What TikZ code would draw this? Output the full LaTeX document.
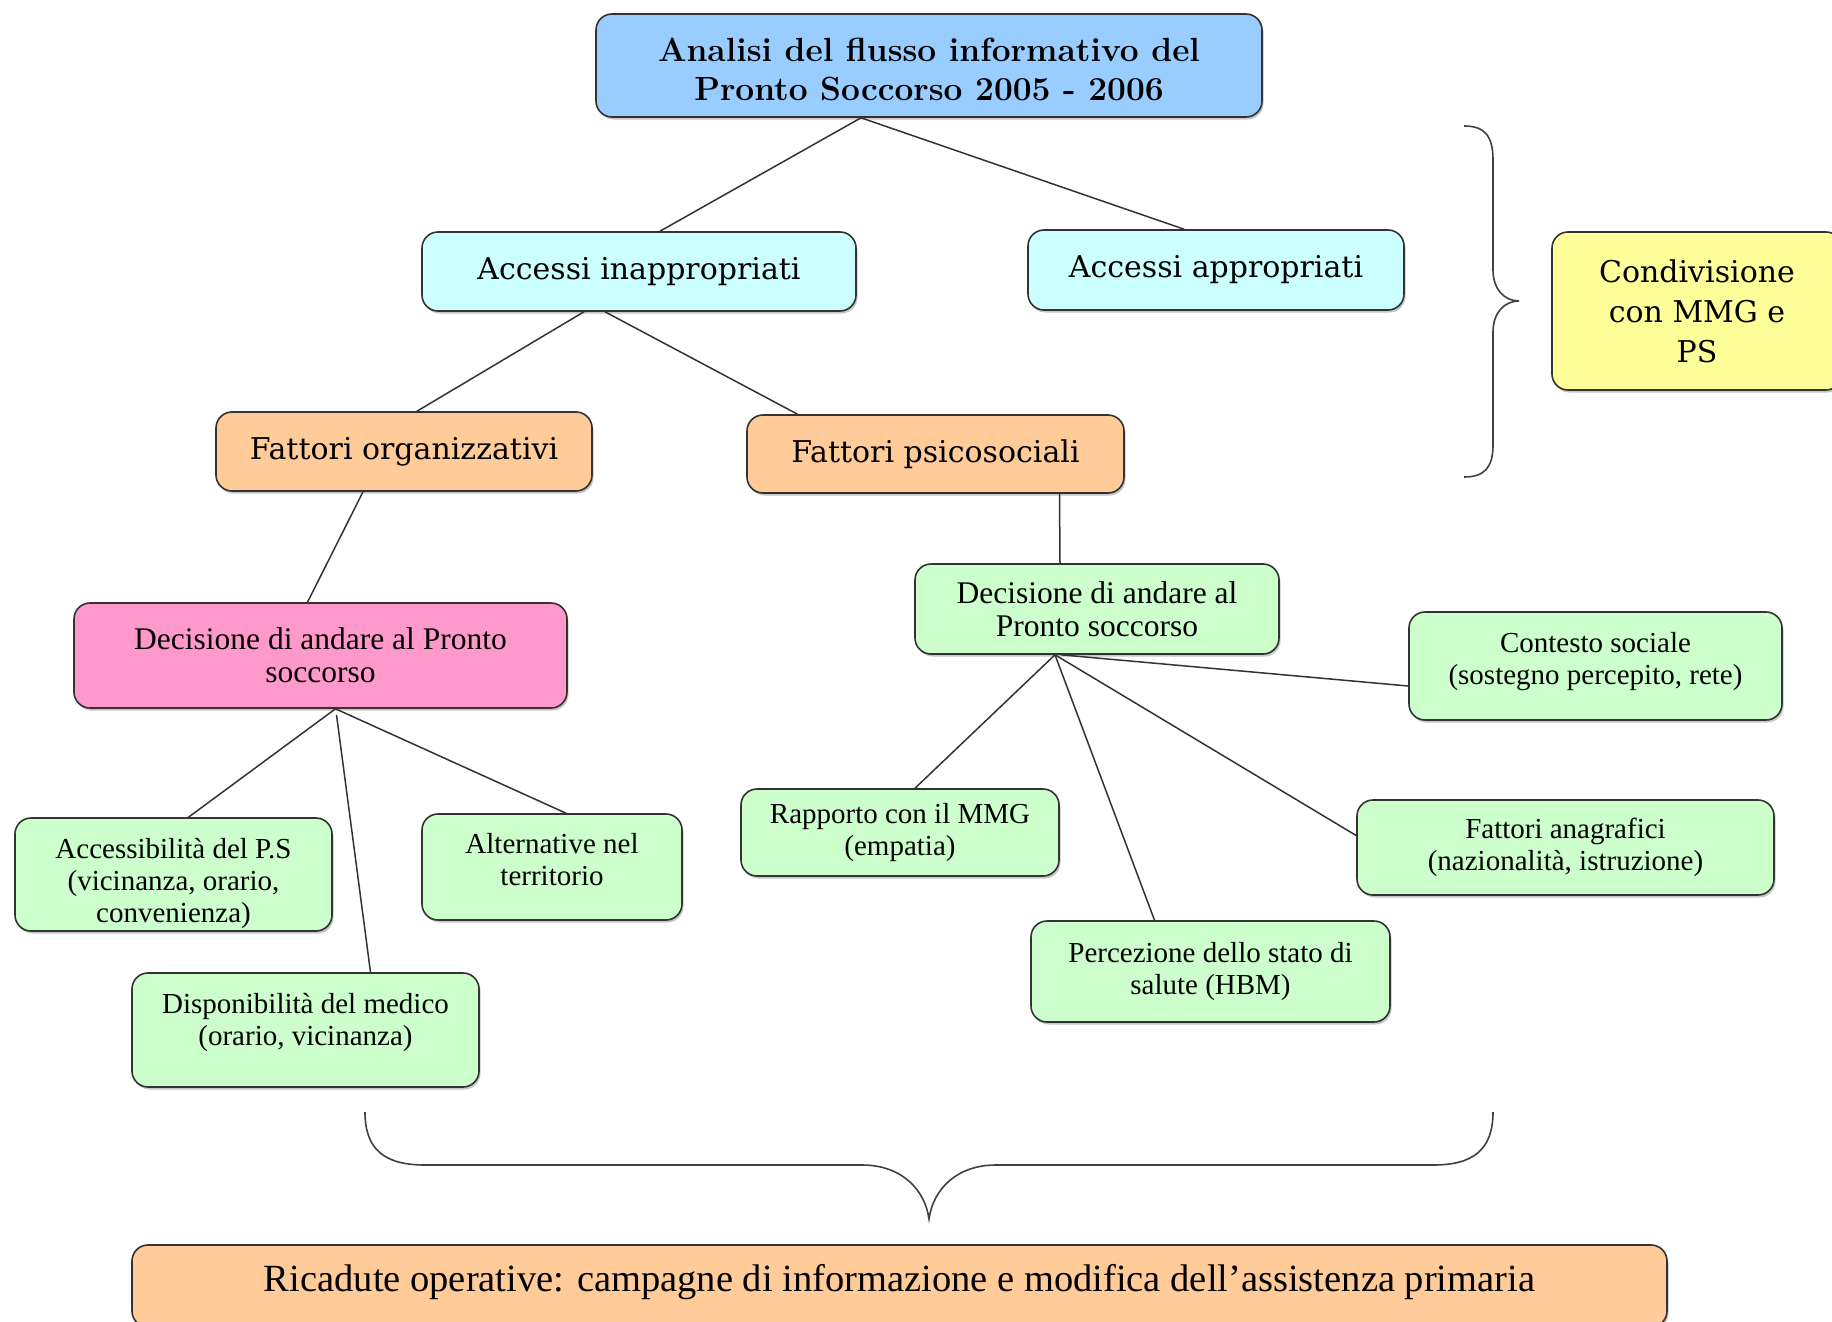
\documentclass[tikz,border=0pt]{standalone}
\usepackage{fontspec}
\newfontfamily\tnr{Liberation Serif}
\newfontfamily\dvs{DejaVu Serif}
\usetikzlibrary{shadows}

\begin{document}
\begin{tikzpicture}[x=1pt,y=-1pt,
  box/.style={draw=black!80, line width=1.6pt, rounded corners=16pt,
    align=center, inner sep=0pt,
    drop shadow={shadow xshift=1.5pt, shadow yshift=-2.5pt, fill=black!45}},
  sz/.style 2 args={minimum width=#1pt, minimum height=#2pt},
  titlebox/.style={box, fill=titleblue, font=\fontsize{33.5}{39}\selectfont\bfseries},
  levelbox/.style={box, fill=#1, font=\dvs\fontsize{30}{40}\selectfont},
  smallbox/.style={box, fill=leafgreen, font=\tnr\fontsize{29}{32}\selectfont},
  decbox/.style={box, fill=#1, font=\tnr\fontsize{31.5}{33}\selectfont},
  link/.style={draw=black!80, line width=1.5pt},
  brace/.style={draw=black!75, line width=1.6pt}
]
\definecolor{titleblue}{HTML}{99CCFF}
\definecolor{accessblue}{HTML}{CCFFFF}
\definecolor{peach}{HTML}{FFCC99}
\definecolor{pinkbox}{HTML}{FF99CC}
\definecolor{leafgreen}{HTML}{CCFFCC}
\definecolor{paleyellow}{HTML}{FFFF99}

\fill[white] (0,0) rectangle (1832,1322);
\useasboundingbox (0,0) rectangle (1832,1322);

% top of the tree
\node[titlebox, sz={666}{103}] (title) at (929,65.5)
  {\mbox{}\\[-8pt]Analisi del flusso informativo del\\Pronto Soccorso 2005 - 2006};

\node[levelbox=accessblue, sz={434}{79}] (inap) at (639,271.5) {Accessi inappropriati};
\node[levelbox=accessblue, sz={376}{80}] (app) at (1216,270) {Accessi appropriati};

\node[levelbox=peach, sz={376}{79}] (forg) at (404,451.5) {Fattori organizzativi};
\node[levelbox=peach, sz={377}{78}] (fpsi) at (935.5,454) {Fattori psicosociali};

% decisions
\node[decbox=pinkbox, sz={493}{105}] (pink) at (320.5,655.5)
  {Decisione di andare al Pronto\\soccorso};
\node[decbox=leafgreen, sz={364}{90}] (dgreen) at (1097,609)
  {Decisione di andare al\\Pronto soccorso};

% organisational factors
\node[smallbox, sz={317}{113}] (access) at (173.5,874.5)
  {\mbox{}\\[6pt]Accessibilità del P.S\\(vicinanza, orario,\\convenienza)};
\node[smallbox, sz={260}{106}] (altern) at (552,867)
  {Alternative nel\\territorio\\[-16pt]\mbox{}};
\node[smallbox, sz={347}{114}] (dispon) at (305.5,1030)
  {Disponibilità del medico\\(orario, vicinanza)\\[-11pt]\mbox{}};

% psychosocial factors
\node[smallbox, sz={373}{108}] (contesto) at (1595.5,666)
  {Contesto sociale\\(sostegno percepito, rete)\\[-16pt]\mbox{}};
\node[smallbox, sz={318}{87}] (rapp) at (900,832.5)
  {Rapporto con il MMG\\(empatia)};
\node[smallbox, sz={359}{101}] (perc) at (1210.5,971.5)
  {Percezione dello stato di\\salute (HBM)};
\node[smallbox, sz={417}{95}] (anag) at (1565.5,847.5)
  {Fattori anagrafici\\(nazionalità, istruzione)};

% side and bottom outcomes
\node[levelbox=paleyellow, sz={290}{158}] (cond) at (1697,311)
  {Condivisione\\con MMG e\\PS};
\node[box, fill=peach, sz={1535}{82}, font=\tnr\fontsize{38.5}{40}\selectfont] (ricad) at (899.5,1286)
  {Ricadute operative: campagne di informazione e modifica dell’assistenza primaria\\[-24pt]\mbox{}};

% connectors
\draw[link] ([xshift=-68pt]title.south) -- ([xshift=21pt]inap.north);
\draw[link] ([xshift=-68pt]title.south) -- ([xshift=-32pt]app.north);
\draw[link] ([xshift=-55pt]inap.south) -- ([xshift=13pt]forg.north);
\draw[link] ([xshift=-34pt]inap.south) -- ([xshift=-138pt]fpsi.north);
\draw[link] ([xshift=-41pt]forg.south) -- ([xshift=-13pt]pink.north);
\draw[link] ([xshift=124pt]fpsi.south) -- ([xshift=-37pt]dgreen.north);

\draw[link] ([xshift=15pt]pink.south) -- ([xshift=15pt]access.north);
\draw[link] ([xshift=16pt,yshift=-6pt]pink.south) -- ([xshift=65pt]dispon.north);
\draw[link] ([xshift=15pt]pink.south) -- ([xshift=14pt]altern.north);

\draw[link] ([xshift=-42pt]dgreen.south) -- ([xshift=15pt]rapp.north);
\draw[link] ([xshift=-42pt]dgreen.south) -- ([xshift=-56pt]perc.north);
\draw[link] ([xshift=-42pt]dgreen.south) -- ([yshift=12pt]anag.west);
\draw[link] ([xshift=-36pt]dgreen.south) -- ([yshift=-20pt]contesto.west);

% braces
\draw[brace] (1464,126) .. controls (1484,126) and (1493,135) .. (1493,160)
  -- (1493,270) .. controls (1493,290) and (1505,301) .. (1519,301)
  .. controls (1505,301) and (1493,312) .. (1493,332)
  -- (1493,445) .. controls (1493,468) and (1484,477) .. (1464,477);
\draw[brace] (365,1112) .. controls (365,1150) and (385,1165) .. (425,1165)
  -- (862,1165) .. controls (902,1165) and (925,1190) .. (929,1219)
  .. controls (933,1190) and (956,1165) .. (996,1165)
  -- (1433,1165) .. controls (1473,1165) and (1493,1150) .. (1493,1112);
\end{tikzpicture}
\end{document}
